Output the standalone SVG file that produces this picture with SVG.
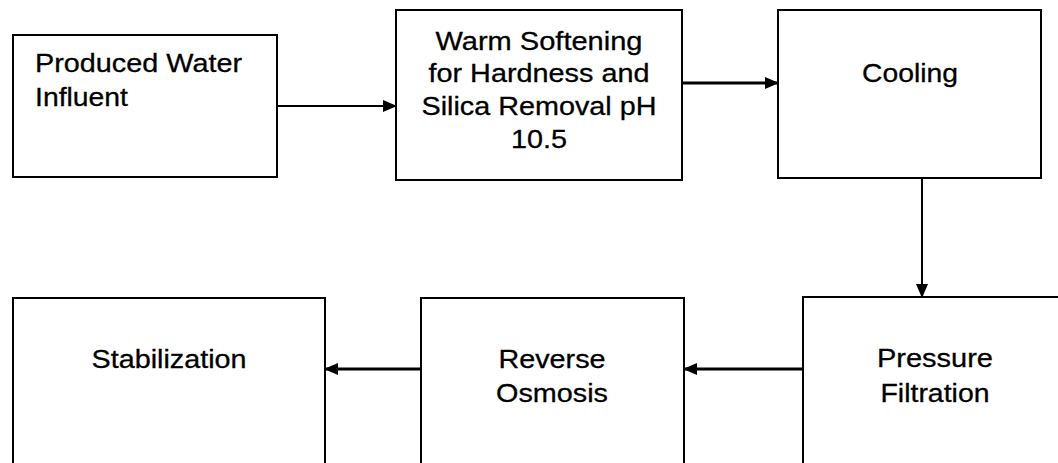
<svg xmlns="http://www.w3.org/2000/svg" width="1058" height="463" viewBox="0 0 1058 463">
<style>
.box{fill:#fff;stroke:#000;stroke-width:2}
.t{font-family:"Liberation Sans",Arial,sans-serif;font-size:26px;fill:#000;stroke:#000;stroke-width:0.3}
.c{text-anchor:middle}
.conn{fill:none;stroke:#000;stroke-width:2}
.thick{stroke-width:3}
</style>
<defs>
<marker id="ah" markerUnits="userSpaceOnUse" markerWidth="14" markerHeight="12" refX="13" refY="6" orient="auto">
<path d="M0,0 L14,6 L0,12 z" fill="#000"/>
</marker>
</defs>
<rect width="1058" height="463" fill="#fff"/>
<g id="n1">
<rect class="box" x="13" y="35" width="264" height="142"/>
<text class="t" x="35" y="72" textLength="207" lengthAdjust="spacingAndGlyphs">Produced Water</text>
<text class="t" x="35" y="106" textLength="93" lengthAdjust="spacingAndGlyphs">Influent</text>
</g>
<g id="n2">
<rect class="box" x="396" y="10" width="286" height="170"/>
<text class="t c" x="539" y="50" textLength="207" lengthAdjust="spacingAndGlyphs">Warm Softening</text>
<text class="t c" x="539" y="82" textLength="221" lengthAdjust="spacingAndGlyphs">for Hardness and</text>
<text class="t c" x="539" y="115" textLength="235" lengthAdjust="spacingAndGlyphs">Silica Removal pH</text>
<text class="t c" x="539" y="148" textLength="56" lengthAdjust="spacingAndGlyphs">10.5</text>
</g>
<g id="n3">
<rect class="box" x="778" y="10" width="263" height="168"/>
<text class="t c" x="910" y="82" textLength="96" lengthAdjust="spacingAndGlyphs">Cooling</text>
</g>
<g id="n4">
<rect class="box" x="803" y="297" width="270" height="180"/>
<text class="t c" x="935" y="367" textLength="116" lengthAdjust="spacingAndGlyphs">Pressure</text>
<text class="t c" x="935" y="402" textLength="109" lengthAdjust="spacingAndGlyphs">Filtration</text>
</g>
<g id="n5">
<rect class="box" x="421" y="298" width="263" height="180"/>
<text class="t c" x="552" y="368" textLength="107" lengthAdjust="spacingAndGlyphs">Reverse</text>
<text class="t c" x="552" y="402" textLength="112" lengthAdjust="spacingAndGlyphs">Osmosis</text>
</g>
<g id="n6">
<rect class="box" x="13" y="298" width="312" height="180"/>
<text class="t c" x="169" y="368" textLength="155" lengthAdjust="spacingAndGlyphs">Stabilization</text>
</g>
<g id="connectors">
<line class="conn" x1="277" y1="106" x2="396" y2="106" marker-end="url(#ah)"/>
<line class="conn thick" x1="682" y1="83" x2="778" y2="83" marker-end="url(#ah)"/>
<line class="conn" x1="922" y1="178" x2="922" y2="297" marker-end="url(#ah)"/>
<line class="conn thick" x1="803" y1="369" x2="684" y2="369" marker-end="url(#ah)"/>
<line class="conn thick" x1="421" y1="369" x2="325" y2="369" marker-end="url(#ah)"/>
</g>
</svg>
